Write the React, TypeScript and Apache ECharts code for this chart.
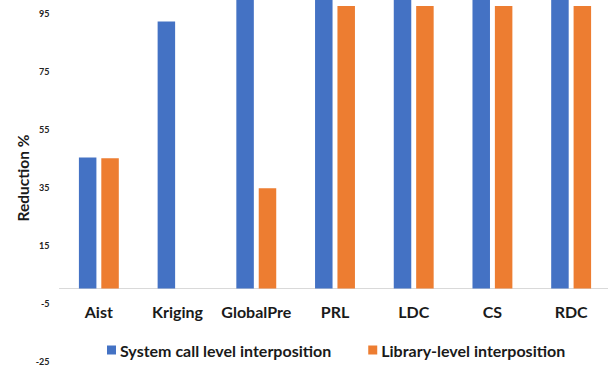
import React, { useEffect, useRef } from "react";
import * as echarts from "echarts";

// Reduction achieved per workload by the two interposition approaches
const categories = ["Aist", "Kriging", "GlobalPre", "PRL", "LDC", "CS", "RDC"];
const systemCallLevel = [45.2, 92.1, 100, 100, 100, 100, 100];
const libraryLevel: (number | null)[] = [44.9, null, 34.6, 97.4, 97.4, 97.4, 97.4];
const seriesNames = ["System call level interposition", "Library-level interposition"];
const yTicks = [-25, -5, 15, 35, 55, 75, 95];
const yMax = 99.5;
const yAxisTitle = "Reduction %";

const FONT = "Lato, 'Open Sans', sans-serif";
const GRID_TOP = 0;
const GRID_BOTTOM = 5;
const CHART_H = 366;

export default function App() {
  const ref = useRef<HTMLDivElement>(null);

  useEffect(() => {
    if (!ref.current) return;
    const chart = echarts.init(ref.current, undefined, { renderer: "svg" });

    // distance from the grid's bottom edge up to the zero line, so the
    // category labels can sit just under the zero-based axis line
    const gridH = CHART_H - GRID_TOP - GRID_BOTTOM;
    const zeroLift = ((0 - yTicks[0]) / (yMax - yTicks[0])) * gridH;

    chart.setOption({
      animation: false,
      backgroundColor: "#ffffff",
      textStyle: { fontFamily: FONT },
      grid: {
        left: 59.5,
        top: GRID_TOP,
        bottom: GRID_BOTTOM,
        width: 551,
        containLabel: false,
        outerBoundsMode: "none",
      },
      legend: {
        data: seriesNames,
        left: 107,
        top: 342,
        padding: 0,
        itemWidth: 9,
        itemHeight: 9,
        itemGap: 37,
        icon: "rect",
        textStyle: { fontFamily: FONT, fontWeight: "bold", fontSize: 16, color: "#1a1a1a", padding: [0, 0, 0, -1] },
      },
      xAxis: [
        {
          type: "category",
          data: categories,
          axisLine: { onZero: true, lineStyle: { color: "#d9d9d9", width: 1 } },
          axisTick: { show: false },
          axisLabel: { show: false },
        },
        {
          type: "category",
          data: categories,
          position: "bottom",
          offset: -zeroLift,
          axisLine: { show: false, onZero: false },
          axisTick: { show: false },
          axisLabel: { fontFamily: FONT, fontWeight: "bold", fontSize: 16, color: "#1a1a1a", margin: 15, interval: 0 },
        },
      ],
      yAxis: {
        type: "value",
        min: yTicks[0],
        max: yMax,
        interval: 20,
        axisLine: { show: false },
        axisTick: { show: false },
        splitLine: { show: false },
        axisLabel: {
          fontFamily: FONT,
          fontWeight: "bold",
          fontSize: 9,
          color: "#222222",
          margin: 10,
          showMaxLabel: false,
          formatter: (v: number) => (yTicks.includes(Math.round(v)) ? String(Math.round(v)) : ""),
        },
      },
      graphic: [
        {
          type: "text",
          x: 22.5,
          y: 178,
          rotation: Math.PI / 2,
          style: {
            text: yAxisTitle,
            fontFamily: FONT,
            fontWeight: "bold",
            fontSize: 15.5,
            fill: "#1a1a1a",
            align: "center",
            verticalAlign: "middle",
          },
        },
      ],
      series: [
        {
          name: seriesNames[0],
          type: "bar",
          xAxisIndex: 0,
          data: systemCallLevel,
          barWidth: 17.5,
          barGap: "28%",
          itemStyle: { color: "#4472C4" },
        },
        {
          name: seriesNames[1],
          type: "bar",
          xAxisIndex: 0,
          data: libraryLevel,
          barWidth: 17.5,
          barGap: "28%",
          itemStyle: { color: "#ED7D31" },
        },
      ],
    });
    return () => chart.dispose();
  }, []);

  return (
    <div
      ref={ref}
      style={{ position: "fixed", left: 0, top: 0, width: 608, height: 366 }}
    />
  );
}
